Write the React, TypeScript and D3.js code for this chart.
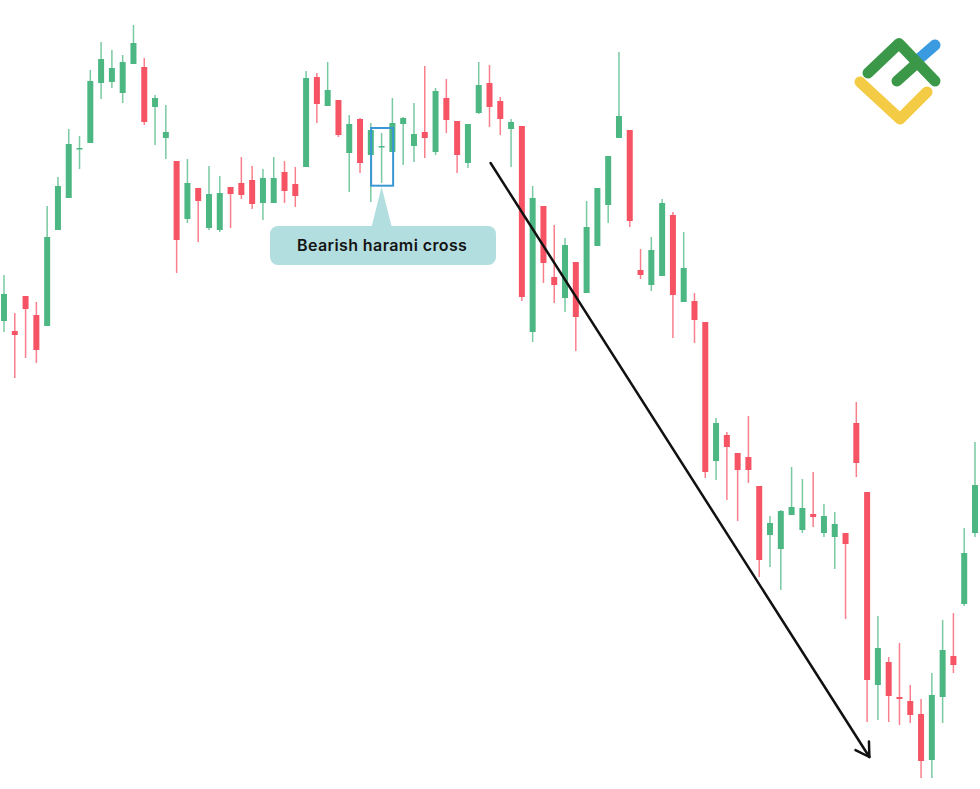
import React from "react";
import * as d3 from "d3";

const W = 980;
const H = 789;

// OHLC price values (arbitrary price units)
const opens = [47.9,46.9,50.4,48.5,47.4,57.0,60.2,65.1,65.7,71.7,71.8,70.7,73.6,73.3,69.3,66.2,63.9,58.1,61.2,57.2,57.0,61.3,61.7,62.0,59.7,59.7,62.8,61.6,63.3,72.3,69.4,70.0,64.7,68.1,64.5,65.3,64.8,67.6,65.4,66.8,64.8,70.2,67.9,63.7,68.7,71.7,69.9,67.1,67.4,46.8,59.4,52.3,50.2,53.8,50.7,55.4,59.5,66.2,67.0,53.0,51.5,52.4,58.5,49.8,49.9,47.8,33.9,36.5,34.7,34.3,31.4,26.5,25.1,28.5,27.0,28.6,26.7,26.3,26.7,37.7,30.8,11.5,13.8,10.3,9.9,8.6,4.0,10.3,14.4,19.6,26.7];
const highs = [52.5,48.7,50.4,49.8,59.4,62.3,67.1,66.4,73.0,75.8,75.0,74.5,77.5,74.2,70.5,69.5,63.9,64.1,61.2,63.4,62.4,61.3,64.3,63.4,63.1,64.3,63.9,63.3,72.9,72.7,73.8,70.0,68.5,68.2,67.7,66.7,70.2,68.3,69.7,73.4,71.2,72.1,67.9,67.6,73.8,73.5,70.3,68.1,67.4,61.4,59.4,57.5,56.2,53.8,59.9,61.2,64.4,74.8,67.0,55.1,56.3,60.1,58.8,56.8,50.7,47.8,38.2,36.8,34.7,38.4,31.4,28.4,29.0,33.3,32.1,32.8,29.6,28.8,26.7,39.8,30.8,18.4,14.3,15.7,11.5,10.1,12.7,18.0,18.7,27.2,35.8];
const lows = [46.8,42.2,44.2,43.7,47.4,57.0,60.2,63.1,65.7,70.1,71.2,69.7,73.6,67.5,65.5,64.1,52.7,57.7,55.8,57.0,56.8,57.2,60.1,59.1,58.0,59.7,59.7,59.3,63.3,67.7,69.4,66.3,60.8,62.7,59.8,61.7,64.8,63.5,63.8,64.2,64.5,66.7,62.7,63.2,68.6,67.3,66.5,63.3,49.9,45.8,51.7,49.7,48.8,44.9,50.7,55.4,57.7,66.2,57.3,52.1,50.9,52.4,46.2,49.8,45.7,32.2,32.0,30.0,27.9,31.7,22.3,23.3,21.0,28.5,26.7,27.3,26.3,23.1,18.1,32.3,7.8,8.0,7.8,7.5,7.7,2.2,2.2,7.7,12.7,19.4,26.3];
const closes = [50.6,46.5,49.1,45.0,56.3,61.4,65.6,65.2,71.9,74.1,73.2,73.8,75.7,67.8,70.2,66.8,56.0,61.7,59.9,60.6,60.7,60.6,60.5,59.6,62.2,62.2,60.9,60.4,72.2,69.6,71.0,66.5,67.6,63.7,67.0,65.4,67.7,68.2,66.6,66.2,70.9,68.0,64.5,67.6,71.5,69.3,68.1,67.8,50.3,60.2,53.7,51.5,55.5,48.3,57.3,61.2,64.4,68.4,57.9,52.5,55.0,59.7,50.5,53.2,48.0,32.8,37.7,35.3,33.0,33.0,24.0,27.7,28.9,29.3,29.2,28.3,28.4,27.6,25.6,33.7,12.0,15.2,10.4,10.1,8.5,3.9,10.5,15.0,13.5,24.7,31.5];
const categories = opens.map((_, i) => i);

const annotationIndex = 35;
const annotationText = "Bearish harami cross";
const trendStart = { i: 45.1, p: 63.7 };
const trendEnd = { i: 80.21, p: 4.3 };

const GREEN = "#4cb782";
const RED = "#f65464";

export default function App() {
  const x = d3
    .scaleLinear()
    .domain([0, categories.length - 1])
    .range([4, 975]);
  const y = d3.scaleLinear().domain([0, 80]).range([800, 0]);
  const bodyW = 6;

  const ax = x(annotationIndex);
  const boxTop = y(highs[annotationIndex]) - 5;
  const boxBot = y(lows[annotationIndex]) + 2.7;

  const x1 = x(trendStart.i), y1 = y(trendStart.p);
  const x2 = x(trendEnd.i), y2 = y(trendEnd.p);
  const ang = Math.atan2(y1 - y2, x1 - x2);
  const wl = 15.5;
  const wa = (31 * Math.PI) / 180;
  const w1 = [x2 + wl * Math.cos(ang + wa), y2 + wl * Math.sin(ang + wa)];
  const w2 = [x2 + wl * Math.cos(ang - wa), y2 + wl * Math.sin(ang - wa)];

  return (
    <svg
      width={W}
      height={H}
      style={{ position: "absolute", left: 0, top: 0, background: "#fff" }}
    >
      <rect x={0} y={0} width={W} height={H} fill="#fff" />
      {categories.map((i) => {
        const o = opens[i], c = closes[i], h = highs[i], l = lows[i];
        const up = c >= o;
        const col = up ? GREEN : RED;
        const cx = x(i);
        const top = y(Math.max(o, c));
        const bh = Math.max(1.5, Math.abs(y(o) - y(c)));
        return (
          <g key={i}>
            <line
              x1={cx}
              x2={cx}
              y1={y(h)}
              y2={y(l)}
              stroke={col}
              strokeOpacity={0.75}
              strokeWidth={1.5}
            />
            <rect x={cx - bodyW / 2} y={top} width={bodyW} height={bh} fill={col} />
          </g>
        );
      })}

      {/* annotation box */}
      <rect
        x={ax - 10.5}
        y={boxTop}
        width={22}
        height={boxBot - boxTop}
        fill="none"
        stroke="#3b97d3"
        strokeWidth={2}
      />
      <path
        d={`M${ax - 10},226.5 L${ax},${boxBot + 1} L${ax + 10},226.5 Z`}
        fill="#b3dee0"
      />
      <rect x={270} y={226} width={226} height={39} rx={8} fill="#b3dee0" />
      <text
        x={297}
        y={251}
        fontFamily="Inter, 'Open Sans', sans-serif"
        fontWeight={600}
        fontSize={16}
        letterSpacing={0.4}
        fill="#141414"
      >
        {annotationText}
      </text>

      {/* trend arrow */}
      <line x1={x1} y1={y1} x2={x2} y2={y2} stroke="#111" strokeWidth={2.5} strokeLinecap="round" />
      <polyline
        points={`${w1[0]},${w1[1]} ${x2},${y2} ${w2[0]},${w2[1]}`}
        fill="none"
        stroke="#111"
        strokeWidth={2.5}
        strokeLinecap="round"
        strokeLinejoin="round"
      />

      {/* logo */}
      <g strokeLinecap="round" strokeLinejoin="round" fill="none" strokeWidth={11}>
        <polyline points="860,82 900,119 927,92" stroke="#f4cb45" />
        <polyline points="920,58 935,45" stroke="#3a9be0" />
        <polyline points="868,73 899,43.5 935,81" stroke="#3b9848" />
        <polyline points="897,81 917,63" stroke="#3b9848" />
      </g>
    </svg>
  );
}
